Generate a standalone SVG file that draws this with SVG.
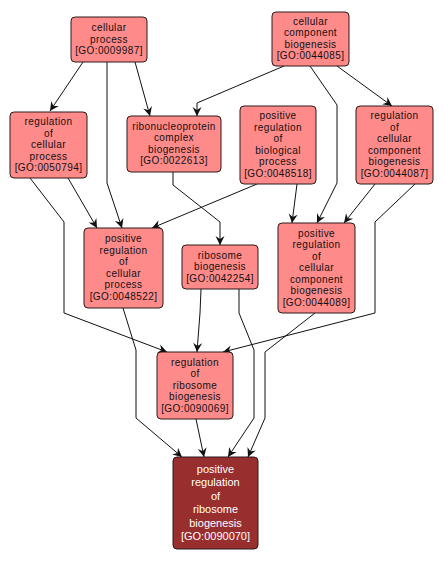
<svg xmlns="http://www.w3.org/2000/svg" width="444" height="563" viewBox="0 0 444 563">
<style>
.n rect{fill:#ff8a8a;stroke:#2a1a1a;stroke-width:1}
.n text{font-family:"Liberation Sans",Arial,sans-serif;font-size:10px;letter-spacing:0.4px;fill:#111;text-anchor:middle}
.k rect{fill:#982e2e;stroke:#2a1a1a;stroke-width:1}
.k text{font-family:"Liberation Sans",Arial,sans-serif;font-size:11px;fill:#fff;text-anchor:middle}
.e path{fill:none;stroke:#111;stroke-width:1;marker-end:url(#ah)}
</style>
<defs>
<marker id="ah" markerUnits="userSpaceOnUse" markerWidth="12" markerHeight="12" viewBox="-10 -6 12 12" refX="0" refY="0" orient="auto">
<path d="M0,0 L-9,-4.5 L-6,0 L-9,4.5 Z" fill="#111"/>
</marker>
</defs>
<rect width="444" height="563" fill="#fff"/>
<g class="e" id="edges">
<path d="M83,62 L50,111"/>
<path d="M135,62 L150,116"/>
<path d="M107,62 L107,183 L122,228"/>
<path d="M284,66 L197,103 L197,116"/>
<path d="M310,66 L337,105 L337,183 L317,223"/>
<path d="M337,66 L392,106"/>
<path d="M68,178 L97,228"/>
<path d="M30,178 L64,222 L64,313 L167,352"/>
<path d="M173,172 L173,185 L220,222 L220,245"/>
<path d="M257,184 L152,228"/>
<path d="M297,184 L292,223"/>
<path d="M375,184 L344,223"/>
<path d="M415,184 L375,222 L375,313 L223,352"/>
<path d="M201,289 L200,313 L197,352"/>
<path d="M239,289 L239,313 L254,350 L254,418 L228,457"/>
<path d="M123,308 L136,350 L136,418 L182,457"/>
<path d="M315,313 L265,352 L265,418 L248,457"/>
<path d="M196,419 L204,457"/>
</g>
<g class="n" id="GO0009987">
<rect x="71" y="17" width="76" height="45" rx="4"/>
<text x="109" y="31">cellular</text><text x="109" y="42.5">process</text><text x="109" y="54">[GO:0009987]</text>
</g>
<g class="n" id="GO0050794">
<rect x="10" y="112" width="77" height="66" rx="4"/>
<text x="48.5" y="125">regulation</text><text x="48.5" y="136.5">of</text><text x="48.5" y="148">cellular</text><text x="48.5" y="159.5">process</text><text x="48.5" y="171">[GO:0050794]</text>
</g>
<g class="n" id="GO0022613">
<rect x="127" y="116" width="94" height="56" rx="4"/>
<text x="174" y="129.75">ribonucleoprotein</text><text x="174" y="141.25">complex</text><text x="174" y="152.75">biogenesis</text><text x="174" y="164.25">[GO:0022613]</text>
</g>
<g class="n" id="GO0044085">
<rect x="272" y="12" width="77" height="54" rx="4"/>
<text x="310.5" y="24.75">cellular</text><text x="310.5" y="36.25">component</text><text x="310.5" y="47.75">biogenesis</text><text x="310.5" y="59.25">[GO:0044085]</text>
</g>
<g class="n" id="GO0048518">
<rect x="240" y="106" width="76" height="78" rx="4"/>
<text x="278" y="119.25">positive</text><text x="278" y="130.75">regulation</text><text x="278" y="142.25">of</text><text x="278" y="153.75">biological</text><text x="278" y="165.25">process</text><text x="278" y="176.75">[GO:0048518]</text>
</g>
<g class="n" id="GO0044087">
<rect x="356" y="106" width="77" height="78" rx="4"/>
<text x="394.5" y="119.25">regulation</text><text x="394.5" y="130.75">of</text><text x="394.5" y="142.25">cellular</text><text x="394.5" y="153.75">component</text><text x="394.5" y="165.25">biogenesis</text><text x="394.5" y="176.75">[GO:0044087]</text>
</g>
<g class="n" id="GO0048522">
<rect x="84" y="228" width="79" height="80" rx="4"/>
<text x="123.5" y="242.25">positive</text><text x="123.5" y="253.75">regulation</text><text x="123.5" y="265.25">of</text><text x="123.5" y="276.75">cellular</text><text x="123.5" y="288.25">process</text><text x="123.5" y="299.75">[GO:0048522]</text>
</g>
<g class="n" id="GO0042254">
<rect x="182" y="245" width="76" height="44" rx="4"/>
<text x="220" y="258.5">ribosome</text><text x="220" y="270">biogenesis</text><text x="220" y="281.5">[GO:0042254]</text>
</g>
<g class="n" id="GO0044089">
<rect x="278" y="223" width="77" height="90" rx="4"/>
<text x="316.5" y="236.5">positive</text><text x="316.5" y="248">regulation</text><text x="316.5" y="259.5">of</text><text x="316.5" y="271">cellular</text><text x="316.5" y="282.5">component</text><text x="316.5" y="294">biogenesis</text><text x="316.5" y="305.5">[GO:0044089]</text>
</g>
<g class="n" id="GO0090069">
<rect x="157" y="352" width="76" height="67" rx="4"/>
<text x="195" y="365.5">regulation</text><text x="195" y="377">of</text><text x="195" y="388.5">ribosome</text><text x="195" y="400">biogenesis</text><text x="195" y="411.5">[GO:0090069]</text>
</g>
<g class="k" id="GO0090070">
<rect x="173" y="457" width="85" height="92" rx="4"/>
<text x="215.5" y="472.5">positive</text><text x="215.5" y="486">regulation</text><text x="215.5" y="499.5">of</text><text x="215.5" y="513">ribosome</text><text x="215.5" y="526.5">biogenesis</text><text x="215.5" y="540">[GO:0090070]</text>
</g>
</svg>
